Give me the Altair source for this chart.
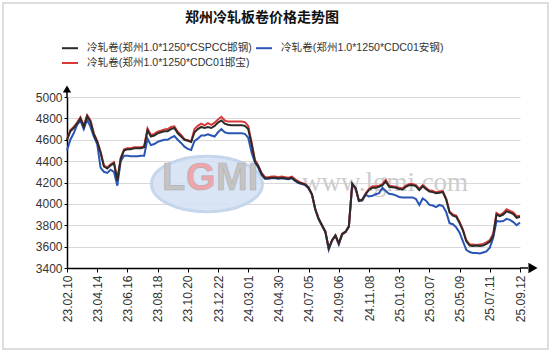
import altair as alt
import pandas as pd

title_text = "郑州冷轧板卷价格走势图"
series_names = [
    "冷轧卷(郑州1.0*1250*CSPCC邯钢)",
    "冷轧卷(郑州1.0*1250*CDC01安钢)",
    "冷轧卷(郑州1.0*1250*CDC01邯宝)",
]
series_colors = ["#2d2a2a", "#2a55b5", "#d83a3a"]
tick_labels = [
    "23.02.10", "23.04.14", "23.06.16", "23.08.18", "23.10.20", "23.12.22",
    "24.03.01", "24.04.30", "24.07.05", "24.09.06", "24.11.08", "25.01.03",
    "25.03.07", "25.05.09", "25.07.11", "25.09.12",
]
y_ticks = [3400, 3600, 3800, 4000, 4200, 4400, 4600, 4800, 5000]

# weekly prices, 2023-02-10 .. 2025-09-12
black = [
    4600, 4680, 4710, 4750, 4800, 4720, 4820, 4770, 4650, 4580, 4480, 4350, 4330, 4360, 4380, 4220, 4420, 4500, 4510,
    4510, 4520, 4520, 4520, 4530,
    4690, 4630, 4640, 4660, 4670, 4680, 4680, 4700, 4710, 4660, 4630, 4600, 4590, 4580,
    4670, 4700, 4720, 4710, 4720, 4710, 4730, 4760, 4780, 4750, 4740, 4735, 4735, 4735, 4735, 4730, 4700, 4560, 4400, 4350, 4280, 4240,
    4240, 4245, 4245, 4240, 4245, 4240, 4235, 4245, 4220, 4200, 4190, 4180, 4150,
    4090, 3950, 3860, 3800, 3740, 3585, 3660, 3705, 3630, 3720, 3740, 3790, 4190, 4150, 4030, 4040,
    4090, 4130, 4150, 4150, 4160, 4175, 4210, 4160, 4155, 4150, 4140, 4135, 4160, 4175,
    4175, 4165, 4130, 4165, 4140, 4115, 4110, 4100, 4105, 4110, 4040, 3920, 3890, 3880, 3820, 3750,
    3650, 3610, 3605, 3610, 3605, 3610, 3625, 3645, 3700, 3900, 3885, 3900, 3930, 3920, 3905, 3870, 3880,
]
blue = [
    4500, 4600, 4660, 4740, 4780, 4700, 4790, 4720, 4630, 4560, 4340, 4300, 4290, 4320, 4300, 4170, 4400, 4450, 4450,
    4445, 4445, 4445, 4450, 4450,
    4610, 4550, 4560, 4580, 4590, 4600, 4600, 4620, 4635, 4600, 4570, 4535, 4515, 4505,
    4590, 4610, 4640, 4640, 4650, 4640, 4630, 4670, 4700, 4670, 4660, 4660, 4660, 4660, 4660, 4655, 4620, 4480, 4390, 4340, 4270, 4235,
    4235, 4240, 4240, 4235, 4240, 4235, 4230, 4240, 4215, 4195, 4185, 4175, 4145,
    4085, 3945, 3855, 3795, 3735, 3570, 3655, 3700, 3620, 3715, 3735, 3785, 4180, 4145, 4025, 4030,
    4085, 4070, 4075, 4090, 4100, 4150, 4120, 4095, 4090, 4080, 4065, 4060, 4060, 4060,
    4060, 4045, 3990, 4050, 4030, 3990, 3985, 3970, 3990, 3980, 3925, 3820, 3810, 3780, 3730, 3650,
    3570, 3550, 3540, 3540, 3535, 3545, 3555, 3590, 3680, 3840, 3835, 3840, 3860, 3850, 3830, 3800, 3825,
]
red = [
    4600, 4690, 4720, 4760, 4810, 4730, 4830, 4780, 4660, 4590, 4490, 4360, 4340, 4370, 4390, 4230, 4430, 4510, 4520,
    4520, 4530, 4530, 4530, 4540,
    4705, 4645, 4655, 4675, 4685, 4695, 4700, 4720, 4725, 4675, 4645, 4605, 4595, 4585,
    4700, 4730, 4750, 4735, 4755, 4740, 4760, 4790, 4815, 4780, 4770, 4770, 4770, 4770, 4770, 4765, 4730, 4580, 4410, 4360, 4290, 4250,
    4250, 4255, 4255, 4250, 4255, 4250, 4245, 4255, 4230, 4210, 4195, 4185, 4155,
    4090, 3950, 3860, 3800, 3740, 3585, 3660, 3705, 3630, 3720, 3740, 3790, 4190, 4150, 4030, 4040,
    4100, 4140, 4165, 4165, 4170, 4185, 4225, 4170, 4165, 4160, 4150, 4145, 4170, 4185,
    4185, 4175, 4140, 4175, 4150, 4125, 4120, 4110, 4115, 4120, 4050, 3930, 3900, 3890, 3830, 3760,
    3660, 3620, 3620, 3615, 3620, 3625, 3640, 3660, 3720, 3915, 3895, 3915, 3950, 3935, 3920, 3885, 3890,
]

rows = []
for name, vals in zip(series_names, [black, blue, red]):
    for i, v in enumerate(vals):
        rows.append({"week": i, "price": v, "series": name})
df = pd.DataFrame(rows)

W, H = 453, 171
n_last = len(black) - 1
step = n_last // (len(tick_labels) - 1)
label_expr = "[" + ",".join("'%s'" % t for t in tick_labels) + "][round(datum.value/%d)]" % step

FONT = "Liberation Sans, Noto Sans CJK SC, sans-serif"

x_enc = alt.X(
    "week:Q",
    scale=alt.Scale(domain=[0, n_last], nice=False, zero=False),
    axis=alt.Axis(
        values=list(range(0, n_last + 1, step)), labelExpr=label_expr, labelAngle=270,
        grid=False, title=None, domainColor="#000000", domainWidth=1.5,
        tickColor="#000000", tickSize=4, labelFontSize=12, labelColor="#333333",
        labelFont=FONT, labelPadding=3, labelOverlap=False,
    ),
)
y_enc = alt.Y(
    "price:Q",
    scale=alt.Scale(domain=[3400, 5000], nice=False, zero=False),
    axis=alt.Axis(
        values=y_ticks, format="d", grid=True, gridColor="#d9d9d9", gridWidth=1, title=None,
        domainColor="#000000", domainWidth=1.5, tickColor="#000000", tickSize=3,
        labelFontSize=12, labelColor="#333333", labelFont=FONT, labelPadding=2,
    ),
)
legend = alt.Legend(
    title=None, orient="none", legendX=-6, legendY=-58, columns=2, direction="horizontal",
    symbolType="stroke", symbolStrokeWidth=2, symbolSize=256, labelFontSize=10.6,
    labelFont=FONT, labelColor="#333333", labelOffset=8, columnPadding=0, rowPadding=0,
    labelLimit=300,
)
color_enc = alt.Color("series:N", scale=alt.Scale(domain=series_names, range=series_colors), legend=legend)

one = pd.DataFrame({"k": [0]})

frame = alt.Chart(one).mark_rect(fill=None, stroke="#d4d4d4", strokeWidth=1.5).encode(
    x=alt.value(-64), x2=alt.value(481), y=alt.value(-94), y2=alt.value(252)
)
ellipse = alt.Chart(one).mark_point(
    shape="M-1,0 A1,0.5 0 1,1 1,0 A1,0.5 0 1,1 -1,0 Z",
    filled=True, fill="#d5e2f3", stroke="#bfd2ec", strokeWidth=3, opacity=0.9,
).encode(x=alt.value(140), y=alt.value(87), size=alt.value(111 * 111))

def logo_letter(t, xpos, col):
    return alt.Chart(pd.DataFrame({"t": [t]})).mark_text(
        font="Liberation Sans", fontSize=38, fontWeight="bold", color=col,
        stroke="#b0b0b0", strokeWidth=0.6, align="left", baseline="middle",
    ).encode(x=alt.value(xpos), y=alt.value(82), text="t:N")

logo_l = logo_letter("L", 95, "#c4c4c4")
logo_g = logo_letter("G", 119, "#f1a5ab")
logo_mi = logo_letter("MI", 149, "#c4c4c4")
www = alt.Chart(pd.DataFrame({"t": ["www.lgmi.com"]})).mark_text(
    font="Liberation Serif", fontSize=27, color="#cccccc", align="center", baseline="middle"
).encode(x=alt.value(318), y=alt.value(86), text="t:N")

def line_layer(name):
    return alt.Chart(df).transform_filter(alt.datum.series == name).mark_line(
        strokeWidth=2, interpolate="linear"
    ).encode(x=x_enc, y=y_enc, color=color_enc)

lines = [line_layer(series_names[1]), line_layer(series_names[2]), line_layer(series_names[0])]

y_ext = alt.Chart(one).mark_rule(color="#000000", strokeWidth=1.5).encode(
    x=alt.value(0), y=alt.value(0), y2=alt.value(-6)
)
y_arrow = alt.Chart(one).mark_point(shape="triangle-up", filled=True, color="#000000", opacity=1).encode(
    x=alt.value(0), y=alt.value(-8), size=alt.value(70)
)
x_ext = alt.Chart(one).mark_rule(color="#000000", strokeWidth=1.5).encode(
    x=alt.value(W), x2=alt.value(W + 8), y=alt.value(H)
)
x_arrow = alt.Chart(one).mark_point(shape="triangle-right", filled=True, color="#000000", opacity=1).encode(
    x=alt.value(W + 13), y=alt.value(H), size=alt.value(110)
)
title = alt.Chart(pd.DataFrame({"t": [title_text]})).mark_text(
    font="Noto Sans CJK SC", fontSize=14, fontWeight="bold", color="#111111",
    align="center", baseline="middle",
).encode(x=alt.value(195), y=alt.value(-79), text="t:N")

chart = alt.layer(
    frame, ellipse, logo_l, logo_g, logo_mi, www, *lines, y_ext, y_arrow, x_ext, x_arrow, title
).properties(
    width=W, height=H,
    autosize=alt.AutoSizeParams(type="none"),
    padding={"left": 67, "top": 97, "right": 34, "bottom": 86},
    background="#ffffff",
).configure_view(strokeWidth=0)

chart.save("out.html", embed_options={"renderer": "svg", "actions": False})
